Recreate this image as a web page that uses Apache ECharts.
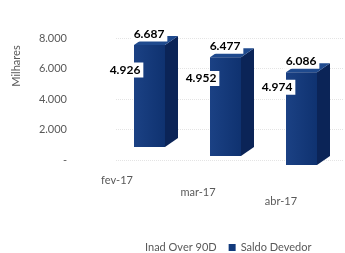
<!DOCTYPE html>
<html>
<head>
<meta charset="utf-8">
<script src="https://cdn.jsdelivr.net/npm/echarts@6/dist/echarts.min.js"></script>
<style>html,body{margin:0;padding:0;background:#fff}#c{width:345px;height:253px}</style>
</head>
<body>
<div id="c"></div>
<script>
const categories = ['fev-17', 'mar-17', 'abr-17'];
const inadValues = [4926, 4952, 4974];
const saldoValues = [6687, 6477, 6086];
const seriesNames = ['Inad Over 90D', 'Saldo Devedor'];

const FONT = 'Lato, "Liberation Sans", sans-serif';
const fmt = v => v === 0 ? '-' : v.toString().replace(/\B(?=(\d{3})+(?!\d))/g, '.');

// perspective shift per category index (visual style only)
const depthShift = i => -13 + 9 * i;

const chart = echarts.init(document.getElementById('c'), null, {renderer: 'canvas'});

function saldoItem(params, api) {
  const i = api.value(0), v = api.value(1);
  const base = api.coord([i, 0]);
  const top = api.coord([i, v]);
  const dy = depthShift(i);
  const x0 = base[0] - 20, w = 31, x1 = x0 + w;
  const yb = base[1] + dy, yt = top[1] + dy;
  const dx = 13, rise = 9;
  return {
    type: 'group',
    children: [
      {type: 'polygon', shape: {points: [[x1, yt], [x1 + dx, yt - rise], [x1 + dx, yb - rise], [x1, yb]]},
        style: {fill: '#0b2457'}},
      {type: 'polygon', shape: {points: [[x0, yt], [x0 + dx, yt - rise], [x1 + dx, yt - rise], [x1, yt]]},
        style: {fill: '#1f4a8e'}},
      {type: 'rect', shape: {x: x0, y: yt, width: w, height: yb - yt},
        style: {fill: new echarts.graphic.LinearGradient(0, 0, 1, 0, [
          {offset: 0, color: '#1b4184'}, {offset: 1, color: '#0f3270'}])}},
      {type: 'text', z2: 10, x: base[0] - 5, y: yt - 11,
        style: {text: fmt(v), align: 'center', verticalAlign: 'middle', fill: '#000',
          font: 'bold 12px ' + FONT, backgroundColor: '#fff', padding: [2, 3, 1, 3]}}
    ]
  };
}

function inadItem(params, api) {
  const i = api.value(0), v = api.value(1);
  const p = api.coord([i, v]);
  const dy = depthShift(i);
  return {
    type: 'text', z2: 20, x: p[0] - 29, y: p[1] + dy - 2,
    style: {text: fmt(v), align: 'center', verticalAlign: 'middle', fill: '#000',
      font: 'bold 12px ' + FONT, backgroundColor: '#fff', padding: [2, 3, 1, 3]}
  };
}

chart.setOption({
  animation: false,
  backgroundColor: '#fff',
  textStyle: {fontFamily: FONT},
  grid: {left: 116, right: 1, top: 38, bottom: 93},
  legend: {
    left: 128, top: 237, icon: 'rect', itemWidth: 7, itemHeight: 7, itemGap: 12,
    textStyle: {color: '#595959', fontSize: 11, fontFamily: FONT},
    data: [{name: seriesNames[0], itemStyle: {color: '#ffffff', opacity: 0}}, seriesNames[1]]
  },
  xAxis: {
    type: 'category', data: categories,
    axisLine: {show: false}, axisTick: {show: false},
    axisLabel: {
      color: '#595959', fontSize: 11, margin: 8,
      formatter: (v, i) => '{c' + i + '|' + v + '}',
      rich: {
        c0: {color: '#595959', fontSize: 11, padding: [7, 74, 0, 0]},
        c1: {color: '#595959', fontSize: 11, padding: [19, 64, 0, 0]},
        c2: {color: '#595959', fontSize: 11, padding: [28, 50, 0, 0]}
      }
    }
  },
  yAxis: {
    type: 'value', min: 0, max: 8000, interval: 2000,
    name: 'Milhares', nameLocation: 'middle', nameRotate: 90, nameGap: 94,
    nameTextStyle: {color: '#595959', fontSize: 11, padding: [0, 0, 0, 66]},
    axisLine: {show: false}, axisTick: {show: false},
    axisLabel: {color: '#595959', fontSize: 11, margin: 49, formatter: fmt},
    splitLine: {lineStyle: {color: '#e4e4e4', type: 'dotted'}}
  },
  series: [
    {name: seriesNames[1], type: 'custom', color: '#123a7c', renderItem: saldoItem,
      encode: {x: 0, y: 1}, data: categories.map((c, i) => [i, saldoValues[i]])},
    {name: seriesNames[0], type: 'custom', color: '#ffffff', z: 5, renderItem: inadItem,
      encode: {x: 0, y: 1}, data: categories.map((c, i) => [i, inadValues[i]])}
  ]
});
</script>
</body>
</html>
